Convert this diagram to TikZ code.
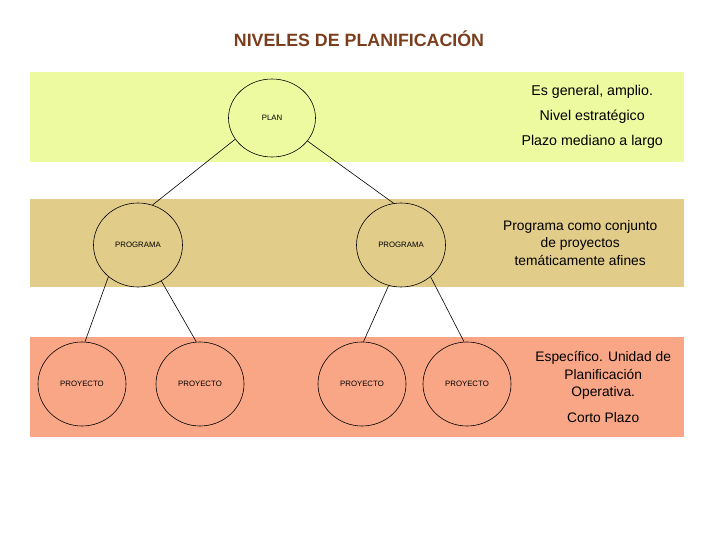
\documentclass[tikz,border=0pt]{standalone}
\usepackage{fontspec}
\setmainfont{Liberation Sans}
\usetikzlibrary{positioning, shapes.geometric}

\definecolor{bandtop}{RGB}{238,250,160}
\definecolor{bandmid}{RGB}{226,204,138}
\definecolor{bandlow}{RGB}{249,166,135}
\definecolor{titlebrown}{RGB}{122,62,30}

\begin{document}
\begin{tikzpicture}[
    x=1pt, y=-1pt,
    band/.style={rectangle, inner sep=0pt, minimum width=654pt},
    level/.style={draw, ellipse, line width=0.6pt, inner sep=0pt, minimum width=88pt, minimum height=84pt, font=\fontsize{7.8}{9}\selectfont},
    note/.style={align=center, font=\fontsize{13.8}{17.5}\selectfont},
    link/.style={line width=0.6pt}
]
    \useasboundingbox (0,0) rectangle (720,540);

    % Title
    \node[font=\fontsize{17.8}{20}\selectfont\bfseries, text=titlebrown] (title) at (359,39) {NIVELES DE PLANIFICACIÓN};

    % Background bands
    \node[band, fill=bandtop, minimum height=90pt] (bandplan) at (357,117) {};
    \node[band, fill=bandmid, minimum height=88pt] (bandprog) at (357,243) {};
    \node[band, fill=bandlow, minimum height=100pt] (bandproy) at (357,387) {};

    % Levels
    \node[level, minimum width=87pt, minimum height=78pt] (plan) at (272,118) {PLAN};
    \node[level, minimum width=89pt] (progL) at (138,245) {PROGRAMA};
    \node[level, minimum width=89pt] (progR) at (401,245) {PROGRAMA};
    \node[level] (proy1) at (82,384) {PROYECTO};
    \node[level] (proy2) at (200,384) {PROYECTO};
    \node[level] (proy3) at (362,384) {PROYECTO};
    \node[level] (proy4) at (467,384) {PROYECTO};

    % Notes - anchored to the bands
    \node[note, font=\fontsize{14.2}{25}\selectfont, left=92pt of bandplan.east, anchor=center] (noteplan) {Es general, amplio.\\Nivel estratégico\\Plazo mediano a largo};
    \node[note, left=104pt of bandprog.east, anchor=center] (noteprog) {Programa como conjunto\\de proyectos\\temáticamente afines};
    \node[note, left=81pt of bandproy.east, anchor=center] (noteproy) {Específico. Unidad de\\Planificación\\Operativa.\\[8pt]Corto Plazo};

    % Links between levels
    \draw[link] (plan.210) -- (progL.70);
    \draw[link] (plan.327) -- (progR.100);
    \draw[link] (progL.227) -- (proy1.86);
    \draw[link] (progL.303) -- (proy2.95);
    \draw[link] (progR.253) -- (proy3.88);
    \draw[link] (progR.313) -- (proy4.94);
\end{tikzpicture}
\end{document}
